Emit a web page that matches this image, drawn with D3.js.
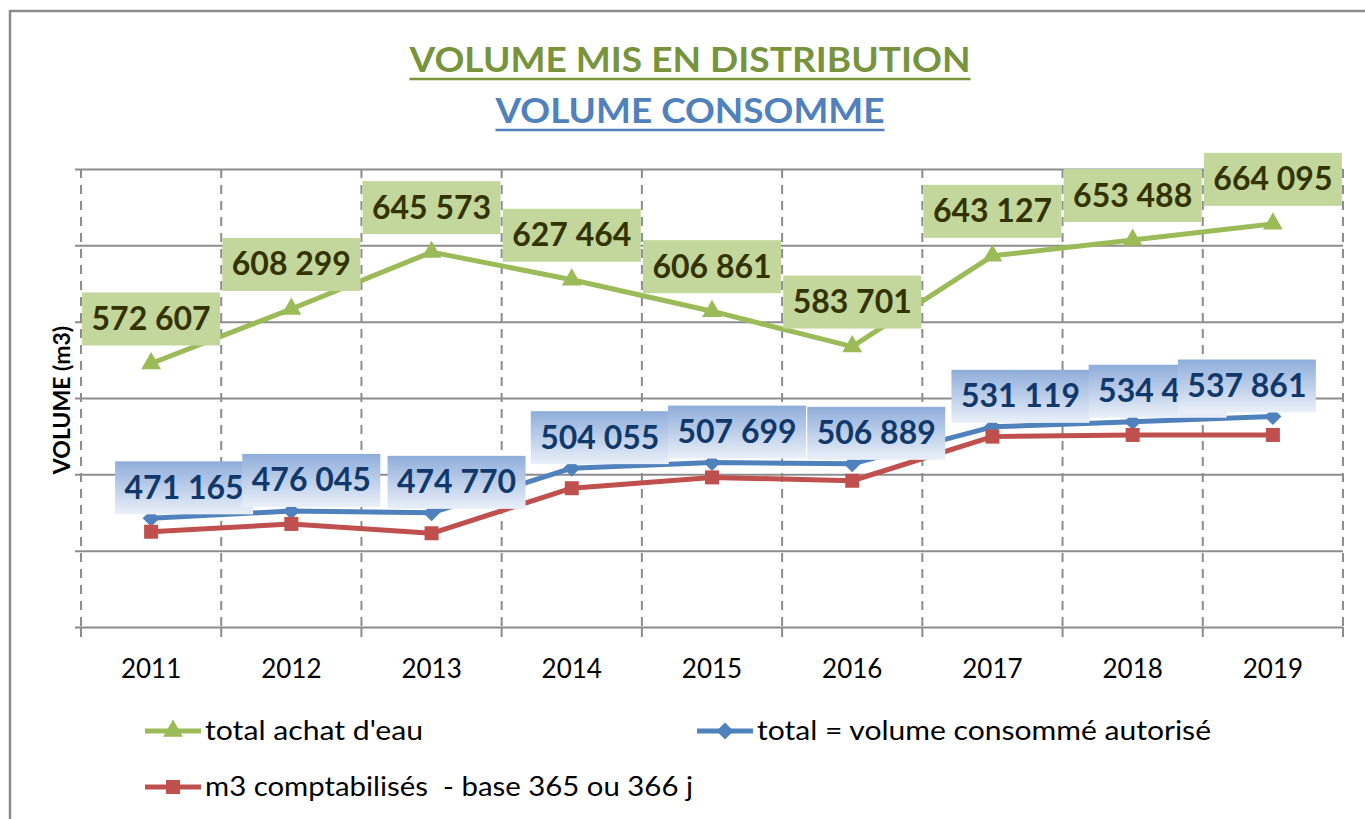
<!DOCTYPE html>
<html>
<head>
<meta charset="utf-8">
<script src="https://cdn.jsdelivr.net/npm/d3@7"></script>
<style>
  body { margin: 0; background: #fff; }
  svg { display: block; font-family: Lato, "Open Sans", sans-serif; }
</style>
</head>
<body>
<div id="chart"></div>
<script>
// --- data ---
const years = ["2011", "2012", "2013", "2014", "2015", "2016", "2017", "2018", "2019"];
const achatEau = [572607, 608299, 645573, 627464, 606861, 583701, 643127, 653488, 664095];
const volumeConsomme = [471165, 476045, 474770, 504055, 507699, 506889, 531119, 534450, 537861];
// no labels on this one, estimated from the line
const m3Comptabilises = [462400, 467500, 461400, 490900, 498000, 495800, 524700, 525800, 525800];
const yTicks = [400000, 450000, 500000, 550000, 600000, 650000, 700000];

const seriesNames = ["total achat d'eau", "total = volume consommé autorisé", "m3 comptabilisés  - base 365 ou 366 j"];

// labels of the blue series were dragged by hand in the original, nudge them the same way
const consommeLabelShift = [33, 20, 25, 28, 25, 24, 28, 25, -26];

const W = 1365, H = 819;
const plot = { left: 81, right: 1343, top: 169, bottom: 627 };

const green = "#9BBB59", blue = "#4F81BD", red = "#C0504D", grid = "#8C8C8C";

const svg = d3.select("#chart").append("svg")
  .attr("width", W)
  .attr("height", H);

const defs = svg.append("defs");
const grad = defs.append("linearGradient")
  .attr("id", "blueLabel")
  .attr("x1", 0).attr("y1", 0).attr("x2", 0).attr("y2", 1);
grad.append("stop").attr("offset", "0%").attr("stop-color", "#8FADDA");
grad.append("stop").attr("offset", "100%").attr("stop-color", "#EAF0F9");

// chart frame (only top and left are visible in the crop)
svg.append("path")
  .attr("d", `M10,${H} V11 H${W}`)
  .attr("fill", "none")
  .attr("stroke", "#8A8A8A")
  .attr("stroke-width", 2.5);

// titles
const titles = [
  { text: "VOLUME MIS EN DISTRIBUTION", color: "#77933C", y: 72, len: 561 },
  { text: "VOLUME CONSOMME", color: "#4F81BD", y: 123, len: 389 }
];
titles.forEach((t) => {
  const cx = 690;
  svg.append("text")
    .attr("x", cx)
    .attr("y", t.y)
    .attr("text-anchor", "middle")
    .attr("font-size", 35)
    .attr("font-weight", 700)
    .attr("fill", t.color)
    .attr("textLength", t.len)
    .attr("lengthAdjust", "spacingAndGlyphs")
    .text(t.text);
  svg.append("line")
    .attr("x1", cx - t.len / 2).attr("x2", cx + t.len / 2)
    .attr("y1", t.y + 7).attr("y2", t.y + 7)
    .attr("stroke", t.color)
    .attr("stroke-width", 2.5);
});

// scales
const x = d3.scaleBand()
  .domain(years)
  .range([plot.left, plot.right]);
const cx = (d) => x(d) + x.bandwidth() / 2;

const y = d3.scaleLinear()
  .domain([400000, 700000])
  .range([plot.bottom, plot.top]);

// horizontal grid, labels hidden like in the original
const yAxis = svg.append("g")
  .attr("transform", `translate(${plot.left},0)`)
  .call(d3.axisLeft(y).tickValues(yTicks).tickSize(-(plot.right - plot.left)).tickFormat(""));
yAxis.select(".domain").remove();
yAxis.selectAll(".tick line")
  .attr("x1", -6)
  .attr("stroke", grid)
  .attr("stroke-width", 2);

// vertical dashed lines on the category edges
const edges = years.map((d) => x(d)).concat(plot.right);
svg.append("g")
  .selectAll("line")
  .data(edges)
  .join("line")
  .attr("x1", (d) => d).attr("x2", (d) => d)
  .attr("y1", plot.top).attr("y2", plot.bottom)
  .attr("stroke", grid)
  .attr("stroke-width", 2)
  .attr("stroke-dasharray", "9,7");
svg.append("g")
  .selectAll("line")
  .data(edges)
  .join("line")
  .attr("x1", (d) => d).attr("x2", (d) => d)
  .attr("y1", plot.bottom).attr("y2", plot.bottom + 10)
  .attr("stroke", grid)
  .attr("stroke-width", 2);

// x labels
svg.append("g")
  .selectAll("text")
  .data(years)
  .join("text")
  .attr("x", (d) => cx(d))
  .attr("y", 678)
  .attr("text-anchor", "middle")
  .attr("font-size", 26)
  .attr("fill", "#000")
  .text((d) => d);

// y title
svg.append("text")
  .attr("transform", "translate(70,400) rotate(-90)")
  .attr("text-anchor", "middle")
  .attr("font-size", 23)
  .attr("font-weight", 700)
  .attr("fill", "#000")
  .text("VOLUME (m3)");

// markers
const tri = d3.symbol(d3.symbolTriangle, 170)();
const diamond = "M0,-8.5L8.5,0L0,8.5L-8.5,0Z";
const square = "M-7,-7H7V7H-7Z";

const line = d3.line()
  .x((d, i) => cx(years[i]))
  .y((d) => y(d));

const series = [
  { values: achatEau, color: green, marker: tri },
  { values: volumeConsomme, color: blue, marker: diamond },
  { values: m3Comptabilises, color: red, marker: square }
];

series.forEach((s) => {
  svg.append("path")
    .datum(s.values)
    .attr("d", line)
    .attr("fill", "none")
    .attr("stroke", s.color)
    .attr("stroke-width", 5)
    .attr("stroke-linejoin", "round");
  svg.append("g")
    .selectAll("path")
    .data(s.values)
    .join("path")
    .attr("d", s.marker)
    .attr("transform", (d, i) => `translate(${cx(years[i])},${y(d)})`)
    .attr("fill", s.color);
});

const fmt = (v) => d3.format(",")(v).replace(/,/g, " ");
const boxW = 138, boxH = 53;

// green data labels
const gLab = svg.append("g")
  .selectAll("g")
  .data(achatEau)
  .join("g")
  .attr("transform", (d, i) => `translate(${cx(years[i])},${y(d) - 18})`);
gLab.append("rect")
  .attr("x", -boxW / 2).attr("y", -boxH)
  .attr("width", boxW).attr("height", boxH)
  .attr("fill", "#C3D69B");
gLab.append("text")
  .attr("y", -boxH / 2 + 11)
  .attr("text-anchor", "middle")
  .attr("font-size", 32)
  .attr("font-weight", 700)
  .attr("fill", "#333300")
  .text((d) => fmt(d));

// blue data labels
const bLab = svg.append("g")
  .selectAll("g")
  .data(volumeConsomme)
  .join("g")
  .attr("transform", (d, i) => `translate(${cx(years[i]) + consommeLabelShift[i]},${y(d) - 4})`);
bLab.append("rect")
  .attr("x", -boxW / 2).attr("y", -boxH)
  .attr("width", boxW).attr("height", boxH)
  .attr("fill", "url(#blueLabel)");
bLab.append("text")
  .attr("y", -boxH / 2 + 11)
  .attr("text-anchor", "middle")
  .attr("font-size", 32)
  .attr("font-weight", 700)
  .attr("fill", "#10386A")
  .text((d) => fmt(d));

// legend
const legendPos = [
  { x: 145, y: 731, len: 218 },
  { x: 697, y: 731, len: 454 },
  { x: 145, y: 787, len: 488 }
];
series.forEach((s, i) => {
  const p = legendPos[i];
  const g = svg.append("g").attr("transform", `translate(${p.x},${p.y})`);
  g.append("line")
    .attr("x1", 0).attr("x2", 56)
    .attr("stroke", s.color)
    .attr("stroke-width", 5);
  g.append("path")
    .attr("d", s.marker)
    .attr("transform", "translate(28,0)")
    .attr("fill", s.color);
  g.append("text")
    .attr("x", 60)
    .attr("y", 9)
    .attr("font-size", 26)
    .attr("fill", "#000")
    .style("white-space", "pre")
    .attr("textLength", p.len)
    .attr("lengthAdjust", "spacingAndGlyphs")
    .text(seriesNames[i]);
});
</script>
</body>
</html>
